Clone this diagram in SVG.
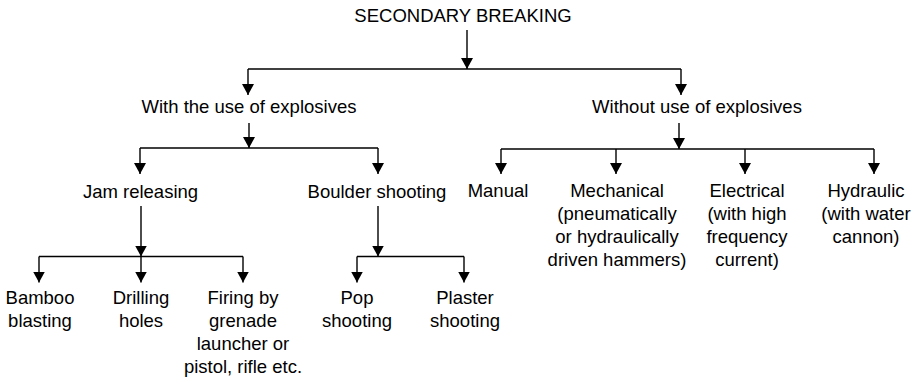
<svg xmlns="http://www.w3.org/2000/svg" width="919" height="378" viewBox="0 0 919 378">
<style>
text{font-family:"Liberation Sans",Arial,sans-serif;font-size:18.5px;fill:#000;text-anchor:middle}
.c{stroke:#000;stroke-width:1.4;fill:none}
.a{marker-end:url(#ah)}
</style>
<defs>
<marker id="ah" viewBox="0 0 11 12" markerWidth="11" markerHeight="12" refX="11" refY="6" orient="auto" markerUnits="userSpaceOnUse">
<path d="M0,0 L11,6 L0,12 z" fill="#000"/>
</marker>
</defs>
<rect width="919" height="378" fill="#fff"/>
<g id="connectors">
<path class="c a" d="M467,30 V69"/>
<path class="c" d="M248,69 H681"/>
<path class="c a" d="M248,69 V95"/>
<path class="c a" d="M681,69 V95"/>
<path class="c a" d="M249,123 V148"/>
<path class="c" d="M140,148 H378"/>
<path class="c a" d="M140,148 V174"/>
<path class="c a" d="M378,148 V174"/>
<path class="c a" d="M679,123 V149"/>
<path class="c" d="M501,149 H874"/>
<path class="c a" d="M501,149 V174"/>
<path class="c a" d="M616,149 V174"/>
<path class="c a" d="M745,149 V174"/>
<path class="c a" d="M874,149 V174"/>
<path class="c a" d="M141,206 V256.5"/>
<path class="c" d="M39,256.5 H243"/>
<path class="c a" d="M39,256.5 V282.5"/>
<path class="c a" d="M141,256.5 V282.5"/>
<path class="c a" d="M243,256.5 V282.5"/>
<path class="c a" d="M378,206 V256.5"/>
<path class="c" d="M357,256.5 H464"/>
<path class="c a" d="M357,256.5 V282.5"/>
<path class="c a" d="M464,256.5 V282.5"/>
</g>
<g id="root"><text x="463" y="22">SECONDARY BREAKING</text></g>
<g id="with"><text x="249" y="113">With the use of explosives</text></g>
<g id="without"><text x="697" y="113">Without use of explosives</text></g>
<g id="jam"><text x="140.5" y="198">Jam releasing</text></g>
<g id="boulder"><text x="377" y="198">Boulder shooting</text></g>
<g id="manual"><text x="498" y="197">Manual</text></g>
<g id="mechanical"><text x="617" y="197">Mechanical</text><text x="617" y="220">(pneumatically</text><text x="617" y="243">or hydraulically</text><text x="617" y="266">driven hammers)</text></g>
<g id="electrical"><text x="747" y="197">Electrical</text><text x="747" y="220">(with high</text><text x="747" y="243">frequency</text><text x="747" y="266">current)</text></g>
<g id="hydraulic"><text x="866" y="197">Hydraulic</text><text x="866" y="220">(with water</text><text x="866" y="243">cannon)</text></g>
<g id="bamboo"><text x="40" y="304">Bamboo</text><text x="40" y="327">blasting</text></g>
<g id="drilling"><text x="141" y="304">Drilling</text><text x="141" y="327">holes</text></g>
<g id="firing"><text x="243" y="304">Firing by</text><text x="243" y="327">grenade</text><text x="243" y="350">launcher or</text><text x="243" y="373">pistol, rifle etc.</text></g>
<g id="pop"><text x="357" y="304">Pop</text><text x="357" y="327">shooting</text></g>
<g id="plaster"><text x="465" y="304">Plaster</text><text x="465" y="327">shooting</text></g>
</svg>
